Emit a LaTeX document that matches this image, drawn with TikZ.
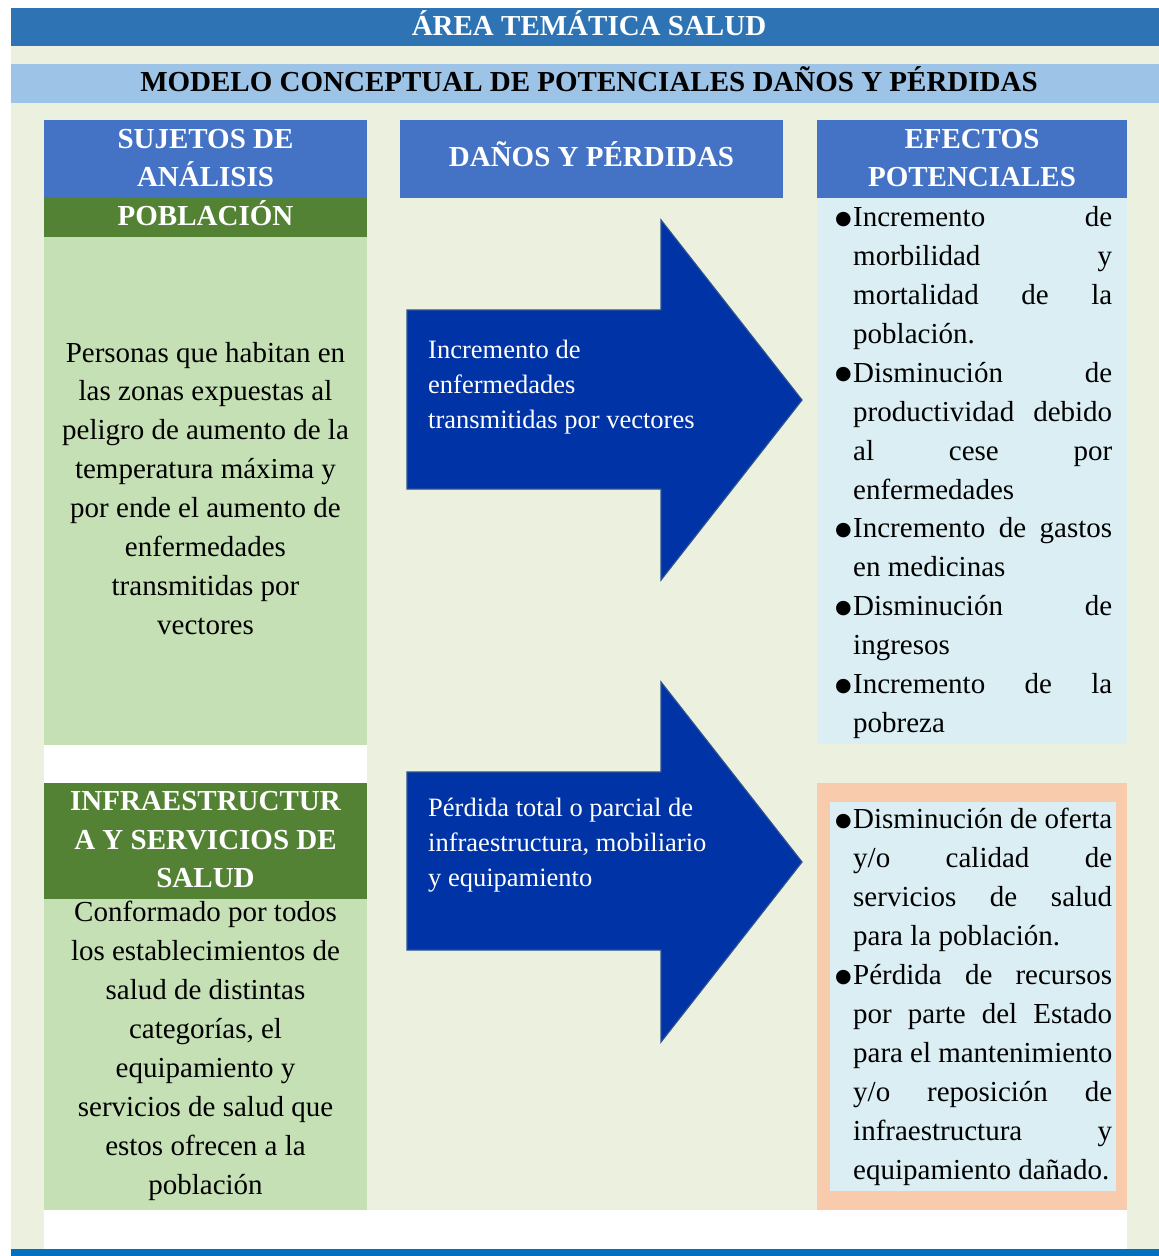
\documentclass[tikz,border=0pt]{standalone}
\usepackage{fontspec}
\setmainfont{Liberation Serif}
\newfontfamily\dotfont{DejaVu Sans}
\definecolor{titlebar}{RGB}{46, 116, 181}
\definecolor{panelbg}{RGB}{235, 241, 222}
\definecolor{subbar}{RGB}{157, 195, 230}
\definecolor{headblue}{RGB}{68, 114, 196}
\definecolor{headgreen}{RGB}{84, 130, 53}
\definecolor{cellgreen}{RGB}{197, 224, 180}
\definecolor{cellblue}{RGB}{218, 238, 243}
\definecolor{peach}{RGB}{248, 203, 173}
\definecolor{arrowblue}{RGB}{0, 51, 166}
\definecolor{arrowedge}{RGB}{47, 82, 143}
\definecolor{footbar}{RGB}{0, 112, 192}
\usepackage{tikz}
\newcommand{\jline}[1]{\makebox[259pt][s]{#1}}
\newcommand{\itemdot}{\llap{\raisebox{2.5pt}{\dotfont\fontsize{19}{19}\selectfont ●}\hspace{1.5pt}}}

\begin{document}
\begin{tikzpicture}[x=1pt, y=-1pt,
  headtext/.style={font=\bfseries\fontsize{29}{38.7}\selectfont, text=white, inner sep=0pt, anchor=base, align=center},
  bodytext/.style={font=\fontsize{29}{38.9}\selectfont, inner sep=0pt, anchor=base, align=center},
  arrowtext/.style={font=\fontsize{26.5}{35}\selectfont, text=white, inner sep=0pt, anchor=base west, align=left},
  listtext/.style={font=\fontsize{29}{38.9}\selectfont, inner sep=0pt, anchor=base west, align=left},
  bigarrow/.style={fill=arrowblue, draw=arrowedge, line width=1.2pt}
]
  \useasboundingbox (0,0) rectangle (1159,1256);
  \fill[panelbg] (11,8) rectangle (1159,1249);
  \fill[titlebar] (11,8) rectangle (1159,45.5);
  \fill[subbar] (11,64) rectangle (1159,102.5);
  \fill[white] (44,1210) rectangle (1127,1249);
  \fill[footbar] (11,1249) rectangle (1159,1256);

  \fill[headblue] (44,120) rectangle (367,197.5);
  \fill[headblue] (400,120) rectangle (783,197.5);
  \fill[headblue] (817,120) rectangle (1127,197.5);
  \fill[headgreen] (44,197.5) rectangle (367,236.5);
  \fill[cellgreen] (44,236.5) rectangle (367,745);
  \fill[white] (44,745) rectangle (367,783);
  \fill[headgreen] (44,783) rectangle (367,899);
  \fill[cellgreen] (44,899) rectangle (367,1210);
  \fill[cellblue] (817,197.5) rectangle (1127,744);
  \fill[peach] (817,783) rectangle (1127,1210);
  \fill[cellblue] (830,802) rectangle (1116,1191);

  \draw[bigarrow] (407,310) -- (661,310) -- (661,220) -- (802,400) -- (661,580) -- (661,489) -- (407,489) -- cycle;
  \draw[bigarrow] (407,772) -- (661,772) -- (661,682) -- (802,862) -- (661,1042) -- (661,950) -- (407,950) -- cycle;

  \node[headtext] (area) at (589,35) {ÁREA TEMÁTICA SALUD};
  \node[headtext, text=black] (modelo) at (589,91) {MODELO CONCEPTUAL DE POTENCIALES DAÑOS Y PÉRDIDAS};
  \node[headtext] (sujetos) at (205.5,186.7) {SUJETOS DE\\ANÁLISIS};
  \node[headtext] (danos) at (591.5,166.7) {DAÑOS Y PÉRDIDAS};
  \node[headtext] (efectos) at (972,186.7) {EFECTOS\\POTENCIALES};
  \node[headtext] (poblacion) at (205.5,225.7) {POBLACIÓN};
  \node[headtext] (infra) at (205.5,887.7) {INFRAESTRUCTUR\\A Y SERVICIOS DE\\SALUD};

  \node[bodytext] (personas) at (205.5,634.3) {Personas que habitan en\\las zonas expuestas al\\peligro de aumento de la\\temperatura máxima y\\por ende el aumento de\\enfermedades\\transmitidas por\\vectores};
  \node[bodytext] (conformado) at (205.5,1194) {Conformado por todos\\los establecimientos de\\salud de distintas\\categorías, el\\equipamiento y\\servicios de salud que\\estos ofrecen a la\\población};

  \node[arrowtext] (vectores) at (428,428.3) {Incremento de\\enfermedades\\transmitidas por vectores};
  \node[arrowtext] (perdida) at (428,886.7) {Pérdida total o parcial de\\infraestructura, mobiliario\\y equipamiento};

  \node[listtext] (efpob) at (853,732.4) {\itemdot\jline{Incremento de}\\\jline{morbilidad y}\\\jline{mortalidad de la}\\población.\\
    \itemdot\jline{Disminución de}\\\jline{productividad debido}\\\jline{al cese por}\\enfermedades\\
    \itemdot\jline{Incremento de gastos}\\en medicinas\\
    \itemdot\jline{Disminución de}\\ingresos\\
    \itemdot\jline{Incremento de la}\\pobreza};
  \node[listtext] (efinfra) at (853,1179) {\itemdot\jline{Disminución de oferta}\\\jline{y/o calidad de}\\\jline{servicios de salud}\\para la población.\\
    \itemdot\jline{Pérdida de recursos}\\\jline{por parte del Estado}\\\jline{para el mantenimiento}\\\jline{y/o reposición de}\\\jline{infraestructura y}\\equipamiento dañado.};
\end{tikzpicture}
\end{document}
